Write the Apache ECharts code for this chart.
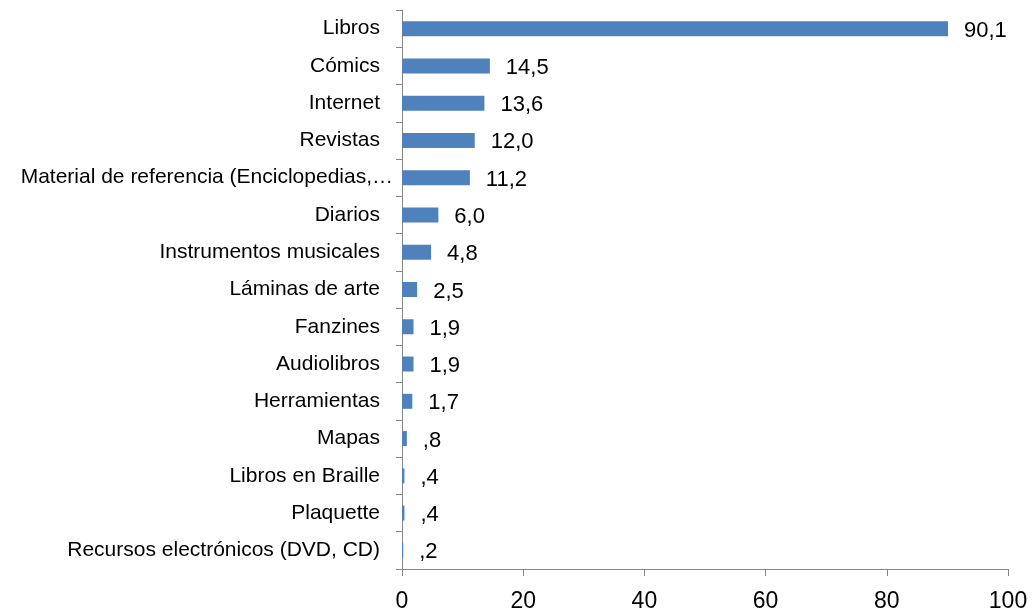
<!DOCTYPE html>
<html>
<head>
<meta charset="utf-8">
<script src="https://cdn.jsdelivr.net/npm/echarts@6/dist/echarts.min.js"></script>
<style>
  html, body { margin: 0; padding: 0; background: #fff; }
  #chart { width: 1036px; height: 616px; }
</style>
</head>
<body>
<div id="chart"></div>
<script>
  // categories, top to bottom
  const categories = [
    'Libros',
    'Cómics',
    'Internet',
    'Revistas',
    'Material de referencia (Enciclopedias,…',
    'Diarios',
    'Instrumentos musicales',
    'Láminas de arte',
    'Fanzines',
    'Audiolibros',
    'Herramientas',
    'Mapas',
    'Libros en Braille',
    'Plaquette',
    'Recursos electrónicos (DVD, CD)',
  ];
  const values = [90.1, 14.5, 13.6, 12.0, 11.2, 6.0, 4.8, 2.5, 1.9, 1.9, 1.7, 0.8, 0.4, 0.4, 0.2];

  const axisColor = '#868686';
  const fontFamily = 'Liberation Sans, Arial, sans-serif';

  const formatValue = (v) => v.toFixed(1).replace('.', ',').replace(/^0/, '');

  // the truncated long label sits closer to the axis than the others
  const categoryData = categories.map((name) =>
    name.endsWith('…')
      ? { value: name, textStyle: { padding: [0, 0, 0, 0] } }
      : name
  );

  const chart = echarts.init(document.getElementById('chart'));
  chart.setOption({
    animation: false,
    grid: {
      left: 402,
      right: 28,
      top: 10,
      bottom: 47,
      containLabel: false,
    },
    xAxis: {
      type: 'value',
      min: 0,
      max: 100,
      interval: 20,
      axisLine: { show: true, lineStyle: { color: axisColor, width: 1 } },
      axisTick: { show: true, length: 7, lineStyle: { color: axisColor } },
      splitLine: { show: false },
      axisLabel: {
        color: '#000',
        fontSize: 23,
        fontFamily,
        margin: 21,
      },
    },
    yAxis: {
      type: 'category',
      inverse: true,
      data: categoryData,
      axisLine: { show: true, lineStyle: { color: axisColor, width: 1 } },
      axisTick: { show: true, length: 6, lineStyle: { color: axisColor } },
      axisLabel: {
        color: '#000',
        fontSize: 21,
        fontFamily,
        margin: 9,
        padding: [0, 13, 0, 0],
      },
    },
    series: [
      {
        type: 'bar',
        data: values,
        barWidth: 15,
        itemStyle: { color: '#4F81BD' },
        label: {
          show: true,
          position: 'right',
          distance: 16,
          color: '#000',
          fontSize: 22,
          fontFamily,
          offset: [0, 2],
          formatter: (p) => formatValue(p.value),
        },
      },
    ],
  });
</script>
</body>
</html>
